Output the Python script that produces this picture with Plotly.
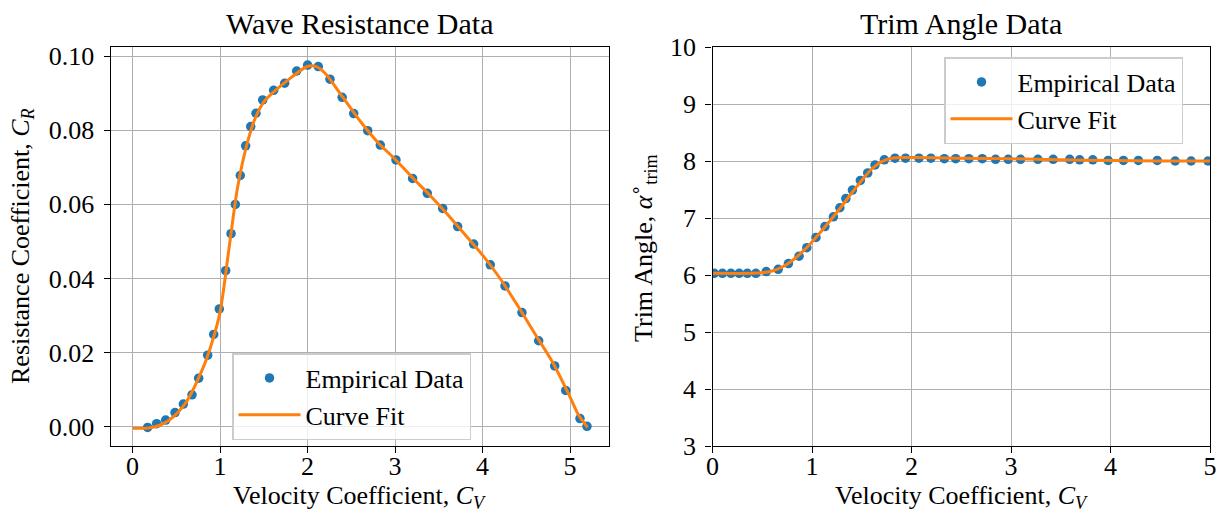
import plotly.graph_objects as go

# ---------------- data ----------------
cv_resist = [0.172, 0.275, 0.378, 0.485, 0.580, 0.679, 0.755, 0.858, 0.927, 0.991,
             1.064, 1.125, 1.174, 1.231, 1.292, 1.350, 1.410, 1.487, 1.612, 1.738,
             1.875, 2.000, 2.122, 2.256, 2.395, 2.527, 2.687, 2.831, 3.010, 3.200,
             3.368, 3.544, 3.715, 3.898, 4.088, 4.256, 4.450, 4.641, 4.824, 4.950,
             5.113, 5.193]
cr_resist = [-0.0002, 0.0008, 0.0018, 0.0038, 0.0061, 0.0086, 0.0131, 0.0193, 0.0249, 0.0318,
             0.0421, 0.0521, 0.0600, 0.0678, 0.0758, 0.0810, 0.0846, 0.0882, 0.0908, 0.0927,
             0.0960, 0.0976, 0.0972, 0.0938, 0.0889, 0.0845, 0.0799, 0.0760, 0.0720, 0.0670,
             0.0630, 0.0589, 0.0540, 0.0493, 0.0437, 0.0380, 0.0308, 0.0232, 0.0164, 0.0098,
             0.0022, 0.0001]

cv_resist_fit = [0.0, 0.2, 0.4, 0.6, 0.8, 0.9, 1.0, 1.1, 1.2, 1.3, 1.4, 1.5, 1.6, 1.8,
                 2.0, 2.1, 2.2, 2.4, 2.6, 2.8, 3.0, 3.2, 3.4, 3.6, 3.8, 4.0, 4.2, 4.4,
                 4.6, 4.8, 5.0, 5.1, 5.2]
cr_resist_fit = [-0.0004, -0.0003, 0.0015, 0.0062, 0.0156, 0.0222, 0.0310, 0.0478, 0.0646,
                 0.0756, 0.0832, 0.0877, 0.0901, 0.0940, 0.0973, 0.0972, 0.0954, 0.0890,
                 0.0825, 0.0768, 0.0722, 0.0672, 0.0624, 0.0573, 0.0518, 0.0463, 0.0400,
                 0.0327, 0.0250, 0.0174, 0.0080, 0.0030, -0.0002]

cv_trim = [0.017, 0.10, 0.185, 0.268, 0.35, 0.436, 0.54, 0.66, 0.763, 0.87, 0.948, 1.04,
           1.13, 1.215, 1.28, 1.34, 1.406, 1.486, 1.56, 1.633, 1.727, 1.834, 1.94, 2.075,
           2.195, 2.33, 2.444, 2.577, 2.711, 2.845, 2.972, 3.096, 3.27, 3.424, 3.59, 3.69,
           3.822, 3.976, 4.13, 4.28, 4.47, 4.65, 4.81, 4.98]
trim_deg = [6.03, 6.03, 6.03, 6.03, 6.03, 6.03, 6.06, 6.10, 6.20, 6.33, 6.48, 6.66,
            6.85, 7.02, 7.18, 7.34, 7.49, 7.66, 7.79, 7.93, 8.02, 8.05, 8.05, 8.05,
            8.05, 8.04, 8.04, 8.04, 8.04, 8.03, 8.03, 8.03, 8.03, 8.03, 8.03, 8.02,
            8.02, 8.01, 8.01, 8.01, 8.01, 8.00, 8.00, 8.00]

cv_trim_fit = [0.0, 0.4, 0.5, 0.6, 0.7, 0.8, 0.9, 1.0, 1.1, 1.2, 1.3, 1.4, 1.5, 1.6,
               1.7, 1.8, 2.0, 2.5, 3.0, 3.5, 4.0, 4.5, 5.0]
trim_deg_fit = [6.03, 6.03, 6.04, 6.07, 6.14, 6.25, 6.40, 6.58, 6.78, 6.99, 7.21, 7.44,
                7.66, 7.86, 7.99, 8.05, 8.06, 8.05, 8.04, 8.02, 8.01, 8.00, 8.00]

titles = ["Wave Resistance Data", "Trim Angle Data"]
xlabel = "Velocity Coefficient, <i>C</i><sub><i>V</i></sub>"
ylabels = ["Resistance Coefficient, <i>C</i><sub><i>R</i></sub>",
           "Trim Angle, <i>α</i><sup>∘</sup><sub>trim</sub>"]
legend_names = ["Empirical Data", "Curve Fit"]

# ---------------- style ----------------
FONT = "Liberation Serif"
BLUE = "#1f77b4"
ORANGE = "#ff7f0e"
W, H = 1223, 518
FS = 26
TITLE_FS = 30
LEG_FS = 26
TFS = 26

def px_x(p):
    return p / W

def px_y(p):
    return (H - p) / H

fig = go.Figure()

fig.add_trace(go.Scatter(x=cv_resist, y=cr_resist, mode="markers", name=legend_names[0],
                         marker=dict(color=BLUE, size=9.5), xaxis="x", yaxis="y",
                         legend="legend"))
fig.add_trace(go.Scatter(x=cv_resist_fit, y=cr_resist_fit, mode="lines", name=legend_names[1],
                         line=dict(color=ORANGE, width=3, shape="spline", smoothing=0.8),
                         xaxis="x", yaxis="y", legend="legend"))
fig.add_trace(go.Scatter(x=cv_trim, y=trim_deg, mode="markers", name=legend_names[0],
                         marker=dict(color=BLUE, size=9.5), xaxis="x2", yaxis="y2",
                         legend="legend2"))
fig.add_trace(go.Scatter(x=cv_trim_fit, y=trim_deg_fit, mode="lines", name=legend_names[1],
                         line=dict(color=ORANGE, width=3, shape="spline", smoothing=0.8),
                         xaxis="x2", yaxis="y2", legend="legend2"))

axis_common = dict(showline=True, linecolor="black", linewidth=1.4, mirror=True,
                   ticks="outside", ticklen=6, tickwidth=1.3, tickcolor="black",
                   showgrid=True, gridcolor="#b0b0b0", gridwidth=1.2, zeroline=False,
                   tickfont=dict(family=FONT, size=TFS, color="black"),
                   automargin=False)

ydom = [px_y(446), px_y(47)]
fig.update_layout(
    width=W, height=H,
    margin=dict(l=0, r=0, t=0, b=0, autoexpand=False),
    paper_bgcolor="white", plot_bgcolor="white",
    font=dict(family=FONT, size=FS, color="black"),
    xaxis=dict(domain=[px_x(110.7), px_x(609)], range=[-0.2503, 5.4446], dtick=1,
               tick0=0, anchor="y", ticklabelstandoff=-9, **axis_common),
    yaxis=dict(domain=ydom, range=[-0.00521, 0.10248], dtick=0.02, tick0=0,
               tickformat=".2f", anchor="x", ticklabelstandoff=4, **axis_common),
    xaxis2=dict(domain=[px_x(712.5), px_x(1210)], range=[0, 5], dtick=1, tick0=0,
                anchor="y2", ticklabelstandoff=-9, **axis_common),
    yaxis2=dict(domain=ydom, range=[3, 10], dtick=1, tick0=0, anchor="x2",
                ticklabelstandoff=4, **axis_common),
    legend=dict(x=px_x(232), y=px_y(353), xanchor="left", yanchor="top",
                bgcolor="rgba(255,255,255,0.8)", bordercolor="#cccccc", borderwidth=1.5,
                font=dict(family=FONT, size=LEG_FS), itemwidth=62, tracegroupgap=0),
    legend2=dict(x=px_x(944), y=px_y(57), xanchor="left", yanchor="top",
                 bgcolor="rgba(255,255,255,0.8)", bordercolor="#cccccc", borderwidth=1.5,
                 font=dict(family=FONT, size=LEG_FS), itemwidth=62, tracegroupgap=0),
    showlegend=True,
)

annos = [
    dict(text=titles[0], x=px_x((110.7 + 609) / 2), y=px_y(23), size=TITLE_FS),
    dict(text=titles[1], x=px_x((712.5 + 1210) / 2), y=px_y(23), size=TITLE_FS),
    dict(text=xlabel, x=px_x((110.7 + 609) / 2), y=px_y(497), size=FS),
    dict(text=xlabel, x=px_x((712.5 + 1210) / 2), y=px_y(497), size=FS),
    dict(text=ylabels[0], x=px_x(22), y=px_y(246), textangle=-90, size=FS),
    dict(text=ylabels[1], x=px_x(643), y=px_y(248), textangle=-90, size=FS),
]
for a in annos:
    size = a.pop("size")
    fig.add_annotation(xref="paper", yref="paper", showarrow=False,
                       xanchor="center", yanchor="middle",
                       font=dict(family=FONT, size=size, color="black"), **a)

fig.write_html("out.html")
